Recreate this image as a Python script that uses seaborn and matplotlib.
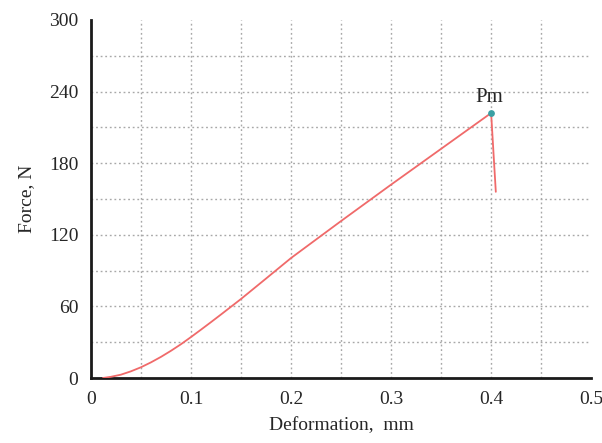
import matplotlib
matplotlib.use("Agg")
import matplotlib.pyplot as plt
import seaborn as sns
import pandas as pd

deformation = [0.012, 0.02, 0.03, 0.04, 0.05, 0.06, 0.07, 0.08, 0.09, 0.10, 0.11, 0.12, 0.13, 0.14, 0.15,
               0.175, 0.20, 0.25, 0.30, 0.35, 0.40, 0.4047]
force = [0.0, 1.0, 2.8, 5.6, 9.0, 13.1, 17.7, 22.8, 28.3, 34.3, 40.5, 46.8, 53.2, 59.7, 66.2,
         83.3, 100.5, 131.5, 162.0, 192.0, 222.0, 156.0]
peak_x = [0.40]
peak_y = [222.0]
peak_label = "Pm"
x_ticks = [0, 0.1, 0.2, 0.3, 0.4, 0.5]
x_tick_labels = ["0", "0.1", "0.2", "0.3", "0.4", "0.5"]
y_ticks = [0, 60, 120, 180, 240, 300]
x_grid = [0.05, 0.1, 0.15, 0.2, 0.25, 0.3, 0.35, 0.4, 0.45]
y_grid = [30, 60, 90, 120, 150, 180, 210, 240, 270]

sns.set_style("white")
plt.rcParams['font.family'] = ['Liberation Serif', 'DejaVu Serif']

df = pd.DataFrame({"Deformation": deformation, "Force": force})

fig = plt.figure(figsize=(6.02, 4.43), dpi=100)
ax = fig.add_axes([0.151, 0.1467, 0.831, 0.8083])

for gx in x_grid:
    ax.axvline(gx, color="#a8a8a8", linestyle=(0, (1.3, 2.0)), linewidth=1.0, zorder=0)
for gy in y_grid:
    ax.axhline(gy, color="#a8a8a8", linestyle=(0, (1.3, 2.0)), linewidth=1.0, zorder=0)

sns.lineplot(data=df, x="Deformation", y="Force", sort=False, ax=ax,
             color="#f06a6a", linewidth=1.3, zorder=3)
ax.scatter(peak_x, peak_y, s=24, color="#3aa0a4", zorder=4, linewidths=0)
ax.annotate(peak_label, (peak_x[0], peak_y[0]), xytext=(-1.5, 4), textcoords="offset points",
            ha="center", va="bottom", fontsize=15)

ax.set_xlim(0, 0.5)
ax.set_ylim(0, 300)
ax.set_xticks(x_ticks)
ax.set_xticklabels(x_tick_labels)
ax.set_yticks(y_ticks)
ax.tick_params(axis="both", length=0, labelsize=14)
ax.tick_params(axis="y", pad=9)
ax.tick_params(axis="x", pad=9)
ax.set_xlabel("Deformation,  mm", fontsize=14, labelpad=7)
ax.set_ylabel("Force, N", fontsize=14, labelpad=10)

for s in ["top", "right"]:
    ax.spines[s].set_visible(False)
for s in ["left", "bottom"]:
    ax.spines[s].set_color("#1a1a1a")
    ax.spines[s].set_linewidth(2.0)

fig.savefig("out.png", dpi=100)
